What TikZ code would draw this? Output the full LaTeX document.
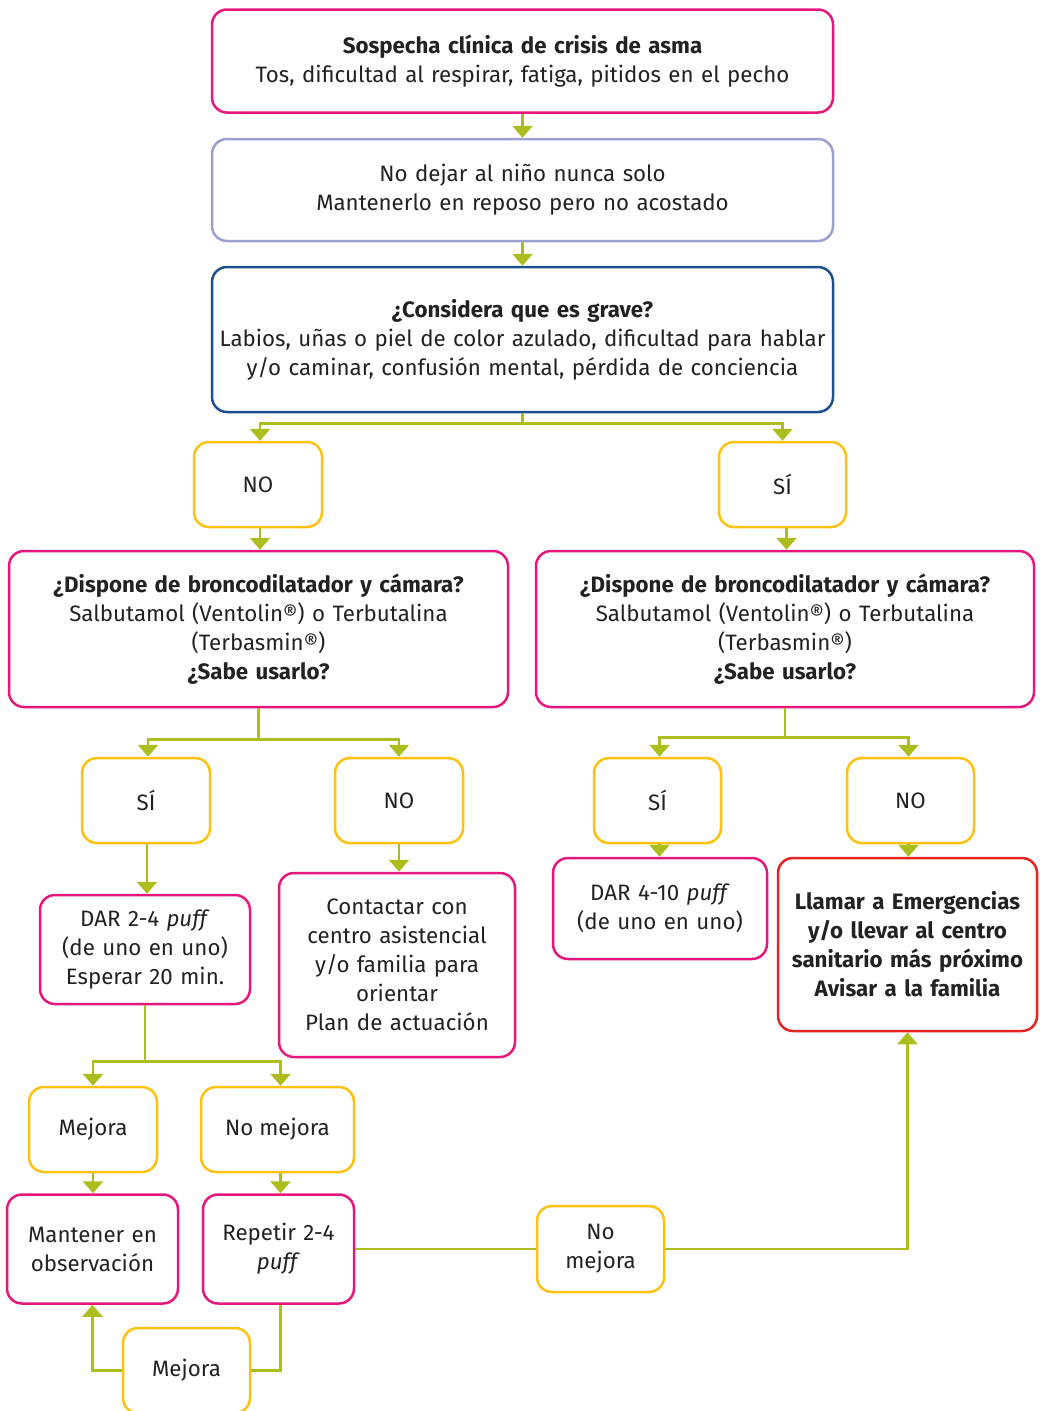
\documentclass[tikz,border=0pt]{standalone}
\usepackage{fontspec}
\setmainfont{Fira Sans}
\usetikzlibrary{arrows.meta,positioning}
\definecolor{cpink}{HTML}{E5177E}
\definecolor{cyel}{HTML}{FDC210}
\definecolor{cgreen}{HTML}{AEBD1E}
\definecolor{cblue}{HTML}{1D4F91}
\definecolor{clav}{HTML}{9C9FD2}
\definecolor{cred}{HTML}{E42322}
\definecolor{ctext}{HTML}{222222}
\begin{document}
\begin{tikzpicture}[x=1pt,y=-1pt,
  box/.style={draw, line width=2.5pt, rounded corners=15pt, fill=white, text=ctext, align=center, inner sep=0pt,
    font=\fontsize{22.3}{29}\selectfont},
  pinkb/.style={box, draw=cpink},
  yelb/.style={box, draw=cyel},
  conn/.style={draw=cgreen, line width=2.8pt, -{Triangle[width=20pt,length=12pt]}},
  plain/.style={draw=cgreen, line width=2.8pt}
]
\useasboundingbox (0,0) rectangle (1039,1411);
% boxes
\node[pinkb, minimum width=621, minimum height=103, text width=615] (sos) at (522.5,61)
  {\textbf{Sospecha clínica de crisis de asma}\\Tos, dificultad al respirar, fatiga, pitidos en el pecho};
\node[box, draw=clav, minimum width=621, minimum height=102, text width=615] (nod) at (522.5,190)
  {No dejar al niño nunca solo\\Mantenerlo en reposo pero no acostado};
\node[box, draw=cblue, minimum width=621, minimum height=145, text width=620] (cons) at (522.5,339.5)
  {\textbf{¿Considera que es grave?}\\Labios, uñas o piel de color azulado, dificultad para hablar\\y/o caminar, confusión mental, pérdida de conciencia};
\node[yelb, minimum width=128, minimum height=85] (no1) at (258,484.5) {NO};
\node[yelb, minimum width=127, minimum height=85] (si1) at (782.5,484.5) {SÍ};
\node[pinkb, minimum width=499, minimum height=156, text width=490] (disL) at (258.5,629)
  {\textbf{¿Dispone de broncodilatador y cámara?}\\Salbutamol (Ventolin®) o Terbutalina\\(Terbasmin®)\\\textbf{¿Sabe usarlo?}};
\node[pinkb, minimum width=498, minimum height=156, text width=490] (disR) at (785,629)
  {\textbf{¿Dispone de broncodilatador y cámara?}\\Salbutamol (Ventolin®) o Terbutalina\\(Terbasmin®)\\\textbf{¿Sabe usarlo?}};
\node[yelb, minimum width=128, minimum height=85] (si2) at (146,800.5) {SÍ};
\node[yelb, minimum width=128, minimum height=85] (no2) at (399,800.5) {NO};
\node[yelb, minimum width=127, minimum height=85] (si3) at (657.5,800.5) {SÍ};
\node[yelb, minimum width=127, minimum height=85] (no3) at (910.5,800.5) {NO};
\node[pinkb, minimum width=210, minimum height=109, text width=205] (dar24) at (145,949.5)
  {DAR 2-4 \textit{puff}\\(de uno en uno)\\Esperar 20 min.};
\node[pinkb, minimum width=236, minimum height=184, text width=230] (cont) at (397,965)
  {Contactar con\\centro asistencial\\y/o familia para\\orientar\\Plan de actuación};
\node[pinkb, minimum width=214, minimum height=101, text width=210] (dar410) at (660,908.5)
  {DAR 4-10 \textit{puff}\\(de uno en uno)};
\node[box, draw=cred, minimum width=259, minimum height=173, text width=258] (llam) at (907.5,944.5)
  {\textbf{Llamar a Emergencias}\\\textbf{y/o llevar al centro}\\\textbf{sanitario más próximo}\\\textbf{Avisar a la familia}};
\node[yelb, minimum width=128, minimum height=85] (mej1) at (93,1129.5) {Mejora};
\node[yelb, minimum width=153, minimum height=85] (nm1) at (277.5,1129.5) {No mejora};
\node[pinkb, minimum width=171, minimum height=109, text width=170] (mant) at (92.5,1249)
  {Mantener en\\observación};
\node[pinkb, minimum width=151, minimum height=109, text width=150] (rep) at (278.5,1249)
  {Repetir 2-4\\\textit{puff}};
\node[yelb, minimum width=127, minimum height=86, text width=120] (nm2) at (600.5,1249)
  {No\\mejora};
\node[yelb, minimum width=127, minimum height=85] (mej2) at (186.5,1370.5) {Mejora};
% connectors
\draw[conn] (sos.south) -- (nod.north);
\draw[conn] (nod.south) -- (cons.north);
\draw[plain] (cons.south) -- ++(0,10) coordinate (c1);
\draw[conn] (c1) -| ([xshift=2pt]no1.north);
\draw[conn] (c1) -| (si1.north);
\draw[conn] ([xshift=2pt]no1.south) -- ([xshift=2pt]no1.south |- disL.north);
\draw[conn] ([xshift=4pt]si1.south) -- ([xshift=4pt]si1.south |- disR.north);
\draw[plain] (disL.south) -- ++(0,31) coordinate (c2);
\draw[conn] (c2) -| ([xshift=2pt]si2.north);
\draw[conn] (c2) -| (no2.north);
\draw[plain] (disR.south) -- ++(0,29) coordinate (c3);
\draw[conn] (c3) -| ([xshift=2pt]si3.north);
\draw[conn] (c3) -| ([xshift=-2pt]no3.north);
\draw[conn] ([xshift=1pt]si2.south) -- ([xshift=1pt]si2.south |- dar24.north);
\draw[conn] (no2.south) -- (no2.south |- cont.north);
\draw[conn] ([xshift=2pt]si3.south) -- ([xshift=2pt]si3.south |- dar410.north);
\draw[conn] ([xshift=-2pt]no3.south) -- ([xshift=-2pt]no3.south |- llam.north);
\draw[plain] (dar24.south) -- ++(0,56) coordinate (c4);
\draw[conn] (c4) -| (mej1.north);
\draw[conn] (c4) -| ([xshift=3pt]nm1.north);
\draw[conn] (mej1.south) -- (mej1.south |- mant.north);
\draw[conn] ([xshift=3pt]nm1.south) -- ([xshift=3pt]nm1.south |- rep.north);
\draw[plain] (rep.east) -- (nm2.west);
\draw[conn] (nm2.east) -| (llam.south);
\draw[plain] ([xshift=2pt]rep.south) |- (mej2.east);
\draw[conn] (mej2.west) -| (mant.south);
\end{tikzpicture}
\end{document}
